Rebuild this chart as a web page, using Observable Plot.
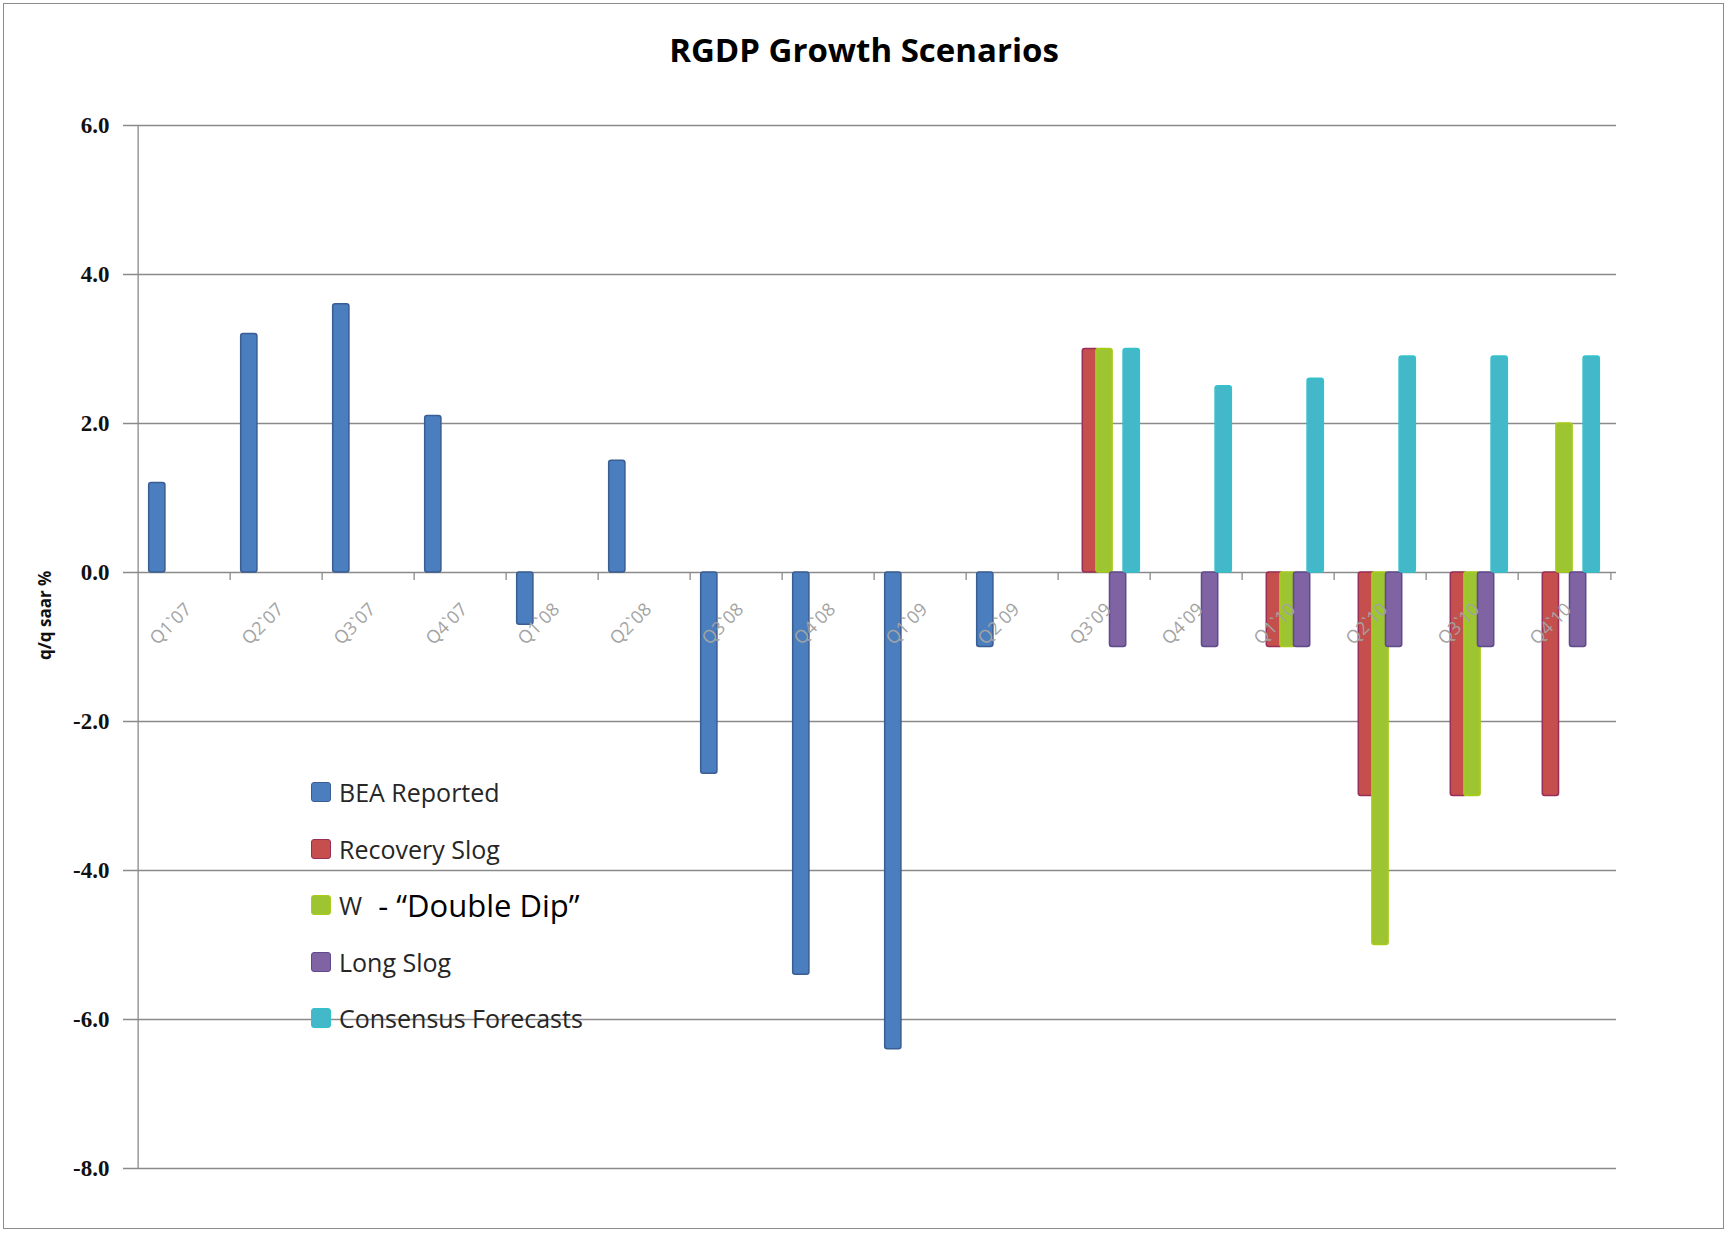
<!DOCTYPE html>
<html>
<head>
<meta charset="utf-8">
<script src="https://cdn.jsdelivr.net/npm/d3@7"></script>
<script src="https://cdn.jsdelivr.net/npm/@observablehq/plot@0.6"></script>
<style>
  html, body { margin: 0; padding: 0; background: #fff; }
  #page { position: relative; width: 1728px; height: 1233px; overflow: hidden; background: #fff; }
  #frame { position: absolute; left: 3px; top: 3px; width: 1719px; height: 1224px; border: 1.5px solid #8c8c8c; pointer-events: none; }
  #title { height: 100px; box-sizing: border-box; padding-top: 28px; text-align: center;
           font-family: "Open Sans", sans-serif; font-weight: 700; font-size: 33px; color: #000; line-height: 44px; }
  #chart svg { display: block; }
  #legend { position: absolute; left: 311px; top: 764px; font-family: "Open Sans", sans-serif; }
  .row { height: 56.5px; display: flex; align-items: center; white-space: pre; }
  .sw { width: 18px; height: 18px; border-radius: 3px; border: 1.5px solid; margin-right: 8px; flex: none; }
  .lab { font-size: 25px; color: #262626; }
  .big { font-size: 31px; color: #000; }
</style>
</head>
<body>
<div id="page">
  <div id="title">RGDP Growth Scenarios</div>
  <div id="chart"></div>
  <div id="legend"></div>
  <div id="frame"></div>
</div>
<script>
const quarters = ["Q1`07","Q2`07","Q3`07","Q4`07","Q1`08","Q2`08","Q3`08","Q4`08",
                  "Q1`09","Q2`09","Q3`09","Q4`09","Q1`10","Q2`10","Q3`10","Q4`10"];
const seriesNames = ["BEA Reported", "Recovery Slog", "W  - “Double Dip”", "Long Slog", "Consensus Forecasts"];
const beaReported  = [1.2, 3.2, 3.6, 2.1, -0.7, 1.5, -2.7, -5.4, -6.4, -1.0, null, null, null, null, null, null];
const recoverySlog = [null, null, null, null, null, null, null, null, null, null, 3.0, null, -1.0, -3.0, -3.0, -3.0];
const doubleDip    = [null, null, null, null, null, null, null, null, null, null, 3.0, null, -1.0, -5.0, -3.0, 2.0];
const longSlog     = [null, null, null, null, null, null, null, null, null, null, -1.0, -1.0, -1.0, -1.0, -1.0, -1.0];
const consensus    = [null, null, null, null, null, null, null, null, null, null, 3.0, 2.5, 2.6, 2.9, 2.9, 2.9];
const yTicks = [-8, -6, -4, -2, 0, 2, 4, 6];
const yLabel = "q/q saar %";

const fills   = ["#4A7EBF", "#C44F4C", "#9DC431", "#7F63A3", "#42B8C9"];
const strokes = ["#3A5D92", "#9A2E58", "#A8CC1A", "#5E4A8C", "#33C2CC"];
const seriesValues = [beaReported, recoverySlog, doubleDip, longSlog, consensus];

const W = 1728, H = 1133;
const mL = 132, mR = 112, mT = 25, mB = 65;
const bw = (W - mL - mR) / quarters.length;
const barW = 17, step = 13.6;
const inset = (bw - barW) / 2;
const pxPerUnit = (H - mT - mB) / (yTicks[yTicks.length - 1] - yTicks[0]);

const rows = [];
seriesValues.forEach((vals, s) => vals.forEach((v, i) => {
  if (v != null) rows.push({quarter: quarters[i], series: seriesNames[s], s, value: v});
}));

const barMarks = seriesNames.map((name, s) => Plot.barY(rows.filter(d => d.s === s), {
  x: "quarter", y: "value", fill: fills[s], stroke: strokes[s], strokeWidth: 1.5,
  rx: 2.5, insetLeft: inset, insetRight: inset, dx: (s - 2) * step
}));

const chart = Plot.plot({
  width: W, height: H,
  marginLeft: mL, marginRight: mR, marginTop: mT, marginBottom: mB,
  style: {fontFamily: "Open Sans, sans-serif", background: "#fff"},
  x: {domain: quarters, padding: 0, axis: null},
  y: {domain: [yTicks[0], yTicks[yTicks.length - 1]], axis: null},
  marks: [
    Plot.gridY(yTicks, {stroke: "#8a8a8a", strokeOpacity: 1, strokeWidth: 1.3, insetLeft: -9}),
    Plot.ruleX([quarters[0]], {dx: -bw / 2, y1: yTicks[0], y2: yTicks[yTicks.length - 1], stroke: "#8a8a8a", strokeWidth: 1.3}),
    Plot.ruleX(quarters.slice(1), {dx: -bw / 2, y1: 0, y2: -8 / pxPerUnit, stroke: "#8a8a8a", strokeWidth: 1.3}),
    Plot.ruleX([quarters[quarters.length - 1]], {dx: bw / 2, y1: 0, y2: -8 / pxPerUnit, stroke: "#8a8a8a", strokeWidth: 1.3}),
    Plot.axisY(yTicks, {tickSize: 0, tickPadding: 23, tickFormat: d => d.toFixed(1),
      fontFamily: "Liberation Serif, serif", fontWeight: "bold", fontSize: 23, fill: "#111", label: null}),
    ...barMarks,
    Plot.text(quarters, {x: d => d, y: () => 0, text: d => d, rotate: -45, textAnchor: "end",
      dx: 4, dy: 34, fontSize: 18, fill: "#a3a3a3", fontFamily: "Open Sans, sans-serif"}),
    Plot.text([yLabel], {frameAnchor: "left", dx: -87, dy: 13, rotate: -90, text: d => d,
      fontSize: 17, fontWeight: "bold", fill: "#111", fontFamily: "Open Sans, sans-serif"})
  ]
});
document.getElementById("chart").appendChild(chart);

const legend = document.getElementById("legend");
seriesNames.forEach((name, s) => {
  const row = document.createElement("div");
  row.className = "row";
  const sw = document.createElement("div");
  sw.className = "sw";
  sw.style.background = fills[s];
  sw.style.borderColor = strokes[s];
  row.appendChild(sw);
  const m = name.match(/^(\S+)(\s+-\s.*)$/);
  const a = document.createElement("span");
  a.className = "lab";
  a.textContent = m ? m[1] : name;
  row.appendChild(a);
  if (m) {
    const b = document.createElement("span");
    b.className = "big";
    b.textContent = m[2];
    row.appendChild(b);
  }
  legend.appendChild(row);
});
</script>
</body>
</html>
